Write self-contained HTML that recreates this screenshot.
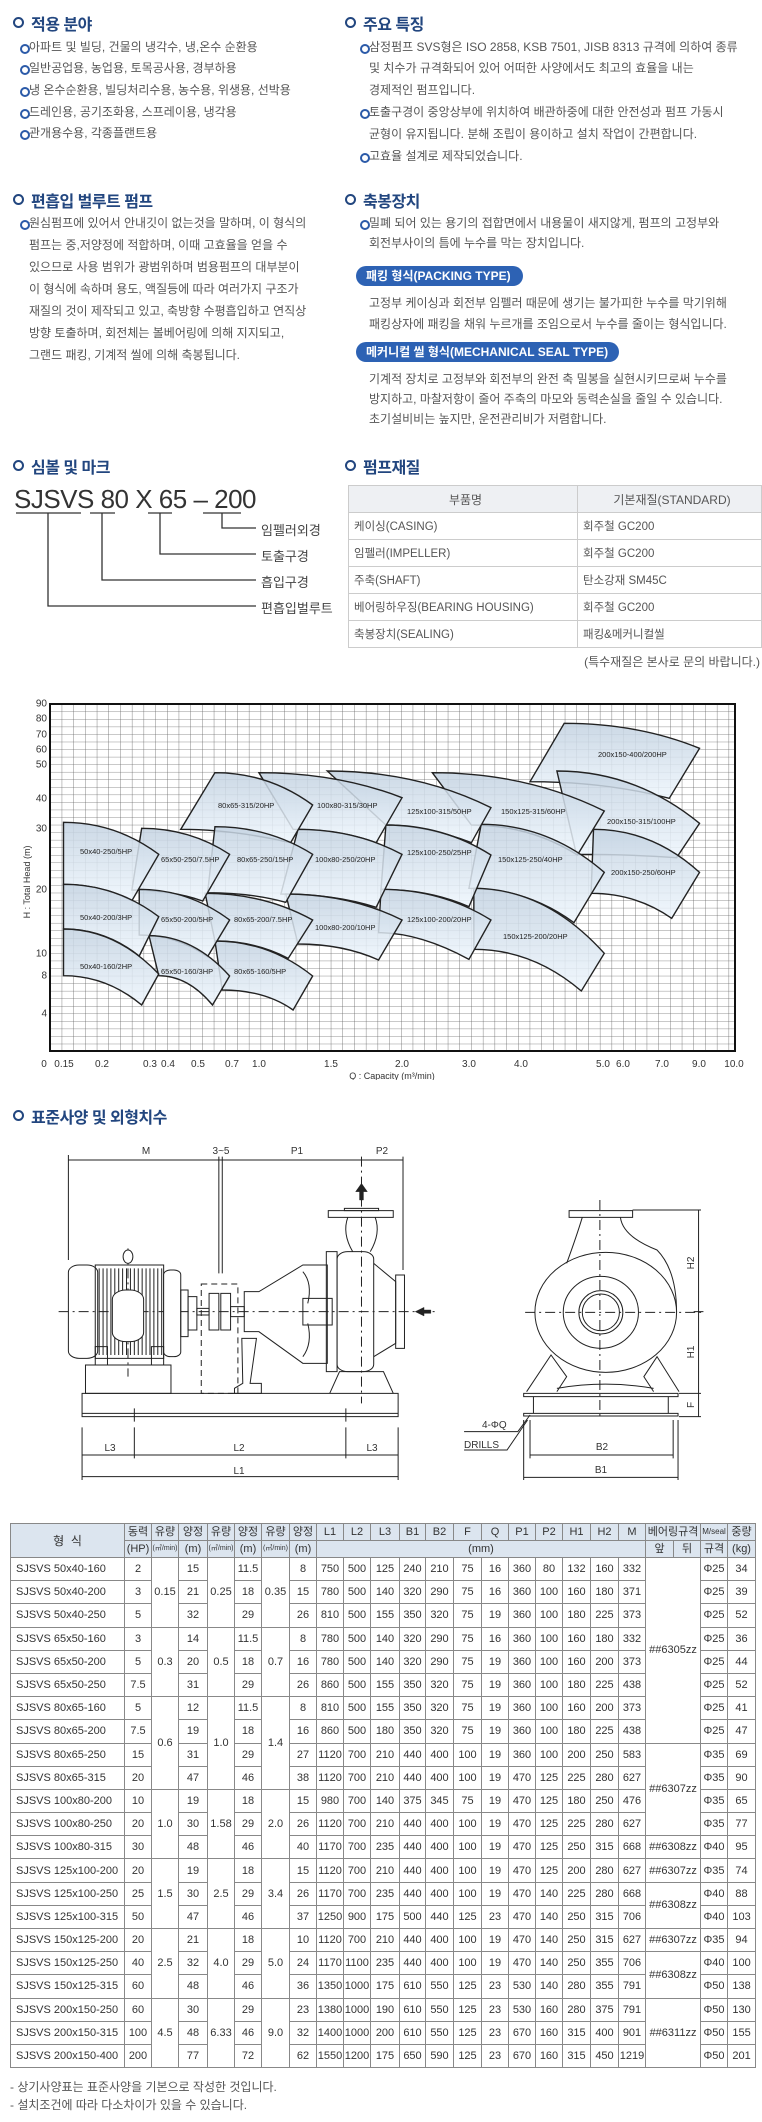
<!DOCTYPE html>
<html><head><meta charset="utf-8">
<style>
*{margin:0;padding:0;box-sizing:border-box}
body{width:762px;height:2122px;position:relative;background:#fff;font-family:"Liberation Sans","Noto Sans CJK KR",sans-serif;color:#555;overflow:hidden}
.a{position:absolute;white-space:nowrap}
.h{font-size:16px;font-weight:bold;color:#22467f;letter-spacing:-0.5px}
.h:before{content:"";display:inline-block;width:7px;height:7px;border:2.5px solid #22467f;border-radius:50%;margin-right:7px;vertical-align:2px}
.t{font-size:12px;line-height:14px;color:#555}
.b:before{content:"";position:absolute;left:-9px;top:4px;width:6px;height:6px;border-radius:50%;border:2px solid #2b5aa8;background:#fff}
.pill{position:absolute;background:#2d62b4;color:#fff;font-size:12px;font-weight:bold;border-radius:10px;height:20px;line-height:20px;padding-left:10px}
table{border-collapse:collapse;table-layout:fixed}
.mt td{border:1px solid #ccc;font-size:11.5px;height:27px;padding-left:5px;color:#555}
.mt tr:first-child td{background:#eef0f3;text-align:center;font-size:12px}
.st{position:absolute;left:10px;top:1523px;width:745px}
.st td{border:1px solid #888;font-size:11px;text-align:center;color:#333;height:23.2px;padding:0;line-height:12px}
.st td.n{text-align:left;padding-left:5px}
.st thead td{background:#dce5ef;height:17px;font-size:11px}
.st tbody tr td{border-top:1px solid #999}
</style></head><body>

<!-- Section 1 -->
<div class="a h" style="left:13px;top:11px">적용 분야</div>
<div class="a t b" style="left:29px;top:40px">아파트 및 빌딩, 건물의 냉각수, 냉,온수 순환용</div>
<div class="a t b" style="left:29px;top:61px">일반공업용, 농업용, 토목공사용, 경부하용</div>
<div class="a t b" style="left:29px;top:83px">냉 온수순환용, 빌딩처리수용, 농수용, 위생용, 선박용</div>
<div class="a t b" style="left:29px;top:105px">드레인용, 공기조화용, 스프레이용, 냉각용</div>
<div class="a t b" style="left:29px;top:126px">관개용수용, 각종플랜트용</div>

<div class="a h" style="left:345px;top:11px">주요 특징</div>
<div class="a t b" style="left:369px;top:40px">삼정펌프 SVS형은 ISO 2858, KSB 7501, JISB 8313 규격에 의하여 종류</div>
<div class="a t" style="left:369px;top:61px">및 치수가 규격화되어 있어 어떠한 사양에서도 최고의 효율을 내는</div>
<div class="a t" style="left:369px;top:83px">경제적인 펌프입니다.</div>
<div class="a t b" style="left:369px;top:105px">토출구경이 중앙상부에 위치하여 배관하중에 대한 안전성과 펌프 가동시</div>
<div class="a t" style="left:369px;top:127px">균형이 유지됩니다. 분해 조립이 용이하고 설치 작업이 간편합니다.</div>
<div class="a t b" style="left:369px;top:149px">고효율 설계로 제작되었습니다.</div>

<div class="a h" style="left:13px;top:188px">편흡입 벌루트 펌프</div>
<div class="a t b" style="left:29px;top:216px">원심펌프에 있어서 안내깃이 없는것을 말하며, 이 형식의</div>
<div class="a t" style="left:29px;top:238px">펌프는 중,저양정에 적합하며, 이때 고효율을 얻을 수</div>
<div class="a t" style="left:29px;top:260px">있으므로 사용 범위가 광범위하며 범용펌프의 대부분이</div>
<div class="a t" style="left:29px;top:282px">이 형식에 속하며 용도, 액질등에 따라 여러가지 구조가</div>
<div class="a t" style="left:29px;top:304px">재질의 것이 제작되고 있고, 축방향 수평흡입하고 연직상</div>
<div class="a t" style="left:29px;top:326px">방향 토출하며, 회전체는 볼베어링에 의해 지지되고,</div>
<div class="a t" style="left:29px;top:348px">그랜드 패킹, 기계적 씰에 의해 축봉됩니다.</div>

<div class="a h" style="left:345px;top:188px">축봉장치</div>
<div class="a t b" style="left:369px;top:216px">밀폐 되어 있는 용기의 접합면에서 내용물이 새지않게, 펌프의 고정부와</div>
<div class="a t" style="left:369px;top:236px">회전부사이의 틈에 누수를 막는 장치입니다.</div>
<div class="pill" style="left:356px;top:266px;width:167px">패킹 형식(PACKING TYPE)</div>
<div class="a t" style="left:369px;top:296px">고정부 케이싱과 회전부 임펠러 때문에 생기는 불가피한 누수를 막기위해</div>
<div class="a t" style="left:369px;top:317px">패킹상자에 패킹을 채워 누르개를 조임으로서 누수를 줄이는 형식입니다.</div>
<div class="pill" style="left:356px;top:342px;width:263px">메커니컬 씰 형식(MECHANICAL SEAL TYPE)</div>
<div class="a t" style="left:369px;top:372px">기계적 장치로 고정부와 회전부의 완전 축 밀봉을 실현시키므로써 누수를</div>
<div class="a t" style="left:369px;top:392px">방지하고, 마찰저항이 줄어 주축의 마모와 동력손실을 줄일 수 있습니다.</div>
<div class="a t" style="left:369px;top:412px">초기설비비는 높지만, 운전관리비가 저렴합니다.</div>

<!-- Section 3 -->
<div class="a h" style="left:13px;top:454px">심볼 및 마크</div>
<div class="a" style="left:14px;top:484px;font-size:26px;color:#333;letter-spacing:-0.5px">SJSVS 80 X 65 – 200</div>
<svg class="a" style="left:0;top:440px" width="340" height="180">
<g stroke="#333" stroke-width="1.3" fill="none">
<line x1="16" y1="73" x2="81" y2="73"/><line x1="90" y1="73" x2="115" y2="73"/><line x1="148" y1="73" x2="172" y2="73"/><line x1="203" y1="73" x2="241" y2="73"/>
<polyline points="222,73 222,88 256,88"/><polyline points="160,73 160,114 256,114"/><polyline points="102,73 102,140 256,140"/><polyline points="48,73 48,166 256,166"/>
</g></svg>
<div class="a" style="left:261px;top:520px;font-size:13px;color:#444">임펠러외경</div>
<div class="a" style="left:261px;top:546px;font-size:13px;color:#444">토출구경</div>
<div class="a" style="left:261px;top:572px;font-size:13px;color:#444">흡입구경</div>
<div class="a" style="left:261px;top:598px;font-size:13px;color:#444">편흡입벌루트</div>

<div class="a h" style="left:345px;top:454px">펌프재질</div>
<table class="mt a" style="left:348px;top:485px;width:413px">
<col style="width:229px"><col style="width:184px">
<tr><td>부품명</td><td>기본재질(STANDARD)</td></tr>
<tr><td>케이싱(CASING)</td><td>회주철 GC200</td></tr>
<tr><td>임펠러(IMPELLER)</td><td>회주철 GC200</td></tr>
<tr><td>주축(SHAFT)</td><td>탄소강재 SM45C</td></tr>
<tr><td>베어링하우징(BEARING HOUSING)</td><td>회주철 GC200</td></tr>
<tr><td>축봉장치(SEALING)</td><td>패킹&amp;메커니컬씰</td></tr>
</table>
<div class="a" style="right:2px;top:653px;font-size:12px;color:#555">(특수재질은 본사로 문의 바랍니다.)</div>

<!-- Chart -->
<svg class="a" style="left:0;top:0" width="762" height="1080" viewBox="0 0 762 1080">
<defs>
<pattern id="g" x="50" y="704" width="11.7" height="7.55" patternUnits="userSpaceOnUse">
<path d="M0 0V7.55M0 0H11.7" stroke="#666" stroke-width="0.8" fill="none"/></pattern>
<linearGradient id="f" x1="0" y1="0" x2="0" y2="1"><stop offset="0" stop-color="#c3d2e1"/><stop offset="1" stop-color="#eef6fd"/></linearGradient>
</defs>
<rect x="50" y="704" width="685" height="347" fill="url(#g)"/>
<g transform="translate(0,670) scale(0.4885,0.33333)" fill="url(#f)" fill-opacity="0.85" stroke="#222" stroke-width="1.4">
<path vector-effect="non-scaling-stroke" d="M1155,160 Q1307,160 1432,235 L1370,385 Q1240,335 1085,335 Z"/>
<path vector-effect="non-scaling-stroke" d="M1140,303 Q1301,303 1432,460 L1385,563 Q1290,553 1180,553 Z"/>
<path vector-effect="non-scaling-stroke" d="M1215,478 Q1335,478 1432,607 L1375,745 Q1302,670 1210,670 Z"/>
<path vector-effect="non-scaling-stroke" d="M885,308 Q1079,308 1237,423 L1182,555 Q1084,465 965,465 Z"/>
<path vector-effect="non-scaling-stroke" d="M985,463 Q1124,463 1237,607 L1175,758 Q1079,655 960,655 Z"/>
<path vector-effect="non-scaling-stroke" d="M970,655 Q1117,655 1237,850 L1190,963 Q1090,838 970,838 Z"/>
<path vector-effect="non-scaling-stroke" d="M670,303 Q854,303 1005,413 L965,518 Q869,465 790,465 Z"/>
<path vector-effect="non-scaling-stroke" d="M790,465 Q908,465 1005,555 L960,710 Q878,658 780,658 Z"/>
<path vector-effect="non-scaling-stroke" d="M780,658 Q904,658 1005,750 L960,868 Q859,788 775,788 Z"/>
<path vector-effect="non-scaling-stroke" d="M530,308 Q691,308 823,383 L770,518 Q696,478 600,478 Z"/>
<path vector-effect="non-scaling-stroke" d="M610,478 Q727,478 823,553 L770,712 Q683,672 575,672 Z"/>
<path vector-effect="non-scaling-stroke" d="M585,672 Q716,672 823,750 L775,870 Q702,822 610,822 Z"/>
<path vector-effect="non-scaling-stroke" d="M440,308 Q550,308 640,405 L595,518 Q475,478 370,478 Z"/>
<path vector-effect="non-scaling-stroke" d="M440,470 Q550,470 640,553 L585,697 Q513,668 425,668 Z"/>
<path vector-effect="non-scaling-stroke" d="M420,670 Q541,670 640,750 L590,865 Q523,813 440,813 Z"/>
<path vector-effect="non-scaling-stroke" d="M440,813 Q550,813 640,918 L600,1020 Q542,960 455,960 Z"/>
<path vector-effect="non-scaling-stroke" d="M290,475 Q389,475 470,553 L415,693 Q350,660 270,660 Z"/>
<path vector-effect="non-scaling-stroke" d="M285,658 Q386,658 470,750 L425,860 Q362,795 285,795 Z"/>
<path vector-effect="non-scaling-stroke" d="M305,797 Q396,797 470,918 L435,1005 Q385,917 325,917 Z"/>
<path vector-effect="non-scaling-stroke" d="M130,457 Q237,457 325,553 L270,692 Q207,643 130,643 Z"/>
<path vector-effect="non-scaling-stroke" d="M130,643 Q237,643 325,740 L285,858 Q215,777 130,777 Z"/>
<path vector-effect="non-scaling-stroke" d="M130,777 Q237,777 325,912 L290,1005 Q218,917 130,917 Z"/>
</g>
<rect x="50" y="704" width="685" height="347" fill="none" stroke="#111" stroke-width="2"/>
<g font-size="7.5" fill="#222" font-family="Liberation Sans,sans-serif" dominant-baseline="middle">
<text x="80" y="852">50x40-250/5HP</text><text x="80" y="918">50x40-200/3HP</text><text x="80" y="967">50x40-160/2HP</text>
<text x="161" y="860">65x50-250/7.5HP</text><text x="161" y="920">65x50-200/5HP</text><text x="161" y="972">65x50-160/3HP</text>
<text x="218" y="806">80x65-315/20HP</text><text x="237" y="860">80x65-250/15HP</text><text x="234" y="920">80x65-200/7.5HP</text><text x="234" y="972">80x65-160/5HP</text>
<text x="317" y="806">100x80-315/30HP</text><text x="315" y="860">100x80-250/20HP</text><text x="315" y="928">100x80-200/10HP</text>
<text x="407" y="812">125x100-315/50HP</text><text x="407" y="853">125x100-250/25HP</text><text x="407" y="920">125x100-200/20HP</text>
<text x="501" y="812">150x125-315/60HP</text><text x="498" y="860">150x125-250/40HP</text><text x="503" y="937">150x125-200/20HP</text>
<text x="598" y="755">200x150-400/200HP</text><text x="607" y="822">200x150-315/100HP</text><text x="611" y="873">200x150-250/60HP</text>
</g>
<g font-size="10" fill="#333" text-anchor="end" dominant-baseline="middle">
<text x="47" y="704">90</text><text x="47" y="719">80</text><text x="47" y="735">70</text><text x="47" y="750">60</text><text x="47" y="765">50</text><text x="47" y="799">40</text><text x="47" y="829">30</text><text x="47" y="890">20</text><text x="47" y="954">10</text><text x="47" y="976">8</text><text x="47" y="1014">4</text>
</g>
<g font-size="10" fill="#333" text-anchor="middle">
<text x="44" y="1067">0</text><text x="64" y="1067">0.15</text><text x="102" y="1067">0.2</text><text x="150" y="1067">0.3</text><text x="168" y="1067">0.4</text><text x="198" y="1067">0.5</text><text x="232" y="1067">0.7</text><text x="259" y="1067">1.0</text><text x="331" y="1067">1.5</text><text x="402" y="1067">2.0</text><text x="469" y="1067">3.0</text><text x="521" y="1067">4.0</text><text x="603" y="1067">5.0</text><text x="623" y="1067">6.0</text><text x="662" y="1067">7.0</text><text x="699" y="1067">9.0</text><text x="734" y="1067">10.0</text>
<text x="392" y="1079" font-size="9">Q : Capacity (m³/min)</text>
</g>
<text transform="translate(30,882) rotate(-90)" font-size="9" fill="#333" text-anchor="middle">H : Total Head (m)</text>
</svg>

<!-- Drawing -->
<div class="a h" style="left:13px;top:1104px">표준사양 및 외형치수</div>
<svg class="a" style="left:0;top:1090px" width="762" height="420" viewBox="0 1090 762 420">
<g transform="translate(0,1090) scale(0.4885,0.33333)" fill="none" stroke="#222" stroke-width="1">
<g vector-effect="non-scaling-stroke">
<!-- dims top -->
<path vector-effect="non-scaling-stroke" d="M140,210H825M140,195V510M448,200V550M455,200V550M825,200V540"/>
<path vector-effect="non-scaling-stroke" stroke-dasharray="10,4,2,4" d="M740,200V940M120,665H890M262,475V860"/>
<!-- motor -->
<rect vector-effect="non-scaling-stroke" x="140" y="525" width="60" height="280" rx="22"/>
<rect vector-effect="non-scaling-stroke" x="195" y="525" width="140" height="280"/>
<path vector-effect="non-scaling-stroke" d="M203,535V795M211,535V795M219,535V795M227,535V795M235,535V795M243,535V795M251,535V795M259,535V795M267,535V795M275,535V795M283,535V795M291,535V795M299,535V795M307,535V795M315,535V795M323,535V795M331,535V795"/>
<rect vector-effect="non-scaling-stroke" x="230" y="600" width="64" height="155" rx="28" fill="#fff"/>
<rect vector-effect="non-scaling-stroke" x="335" y="540" width="35" height="260" rx="14" fill="#fff"/>
<ellipse vector-effect="non-scaling-stroke" cx="262" cy="500" rx="10" ry="20" fill="#fff"/>
<rect vector-effect="non-scaling-stroke" x="370" y="600" width="15" height="140"/>
<rect vector-effect="non-scaling-stroke" x="385" y="620" width="18" height="100"/>
<rect vector-effect="non-scaling-stroke" x="195" y="770" width="25" height="55"/>
<rect vector-effect="non-scaling-stroke" x="310" y="770" width="25" height="55"/>
<rect vector-effect="non-scaling-stroke" x="175" y="825" width="175" height="85"/>
<!-- coupling -->
<rect vector-effect="non-scaling-stroke" x="403" y="655" width="25" height="20"/>
<rect vector-effect="non-scaling-stroke" x="428" y="610" width="20" height="110"/>
<rect vector-effect="non-scaling-stroke" x="452" y="610" width="20" height="110"/>
<rect vector-effect="non-scaling-stroke" x="472" y="650" width="28" height="30"/>
<rect vector-effect="non-scaling-stroke" stroke-dasharray="6,4" x="412" y="582" width="75" height="328"/>
<!-- bracket -->
<path vector-effect="non-scaling-stroke" d="M500,605H530L620,525H670V820H620L530,725H500Z"/>
<path vector-effect="non-scaling-stroke" d="M620,545Q640,580 630,640M620,800Q640,760 630,700M620,625H680V705H620Z"/>
<path vector-effect="non-scaling-stroke" d="M495,745H525L512,880H535V910H480V895L497,880Z"/>
<!-- casing -->
<rect vector-effect="non-scaling-stroke" x="668" y="485" width="22" height="360"/>
<rect vector-effect="non-scaling-stroke" x="690" y="485" width="75" height="360" rx="22"/>
<path vector-effect="non-scaling-stroke" d="M765,520L810,575V760L765,800"/>
<rect vector-effect="non-scaling-stroke" x="810" y="555" width="18" height="220"/>
<path vector-effect="non-scaling-stroke" d="M712,382Q700,430 722,485M768,382Q780,430 758,485"/>
<rect vector-effect="non-scaling-stroke" x="672" y="362" width="133" height="20"/>
<rect vector-effect="non-scaling-stroke" x="705" y="355" width="70" height="7"/>
<path vector-effect="non-scaling-stroke" d="M675,910L695,845H785L805,910"/>
<path d="M736,330V305H728L740,280L752,305H744V330Z" fill="#222"/>
<path d="M850,665L868,652V660H882V670H868V678Z" fill="#222"/>
<!-- base -->
<rect vector-effect="non-scaling-stroke" x="168" y="910" width="647" height="70"/>
<path vector-effect="non-scaling-stroke" d="M168,970H815M275,955V995M708,955V995"/>
<!-- bottom dims -->
<path vector-effect="non-scaling-stroke" d="M168,1012V1170M275,1012V1105M708,1012V1105M815,1012V1170M168,1095H815M168,1160H815"/>
<!-- side view -->
<ellipse vector-effect="non-scaling-stroke" cx="1240" cy="667" rx="145" ry="180"/>
<ellipse vector-effect="non-scaling-stroke" cx="1230" cy="667" rx="77" ry="108"/>
<ellipse vector-effect="non-scaling-stroke" cx="1230" cy="667" rx="45" ry="65"/>
<ellipse vector-effect="non-scaling-stroke" cx="1230" cy="667" rx="38" ry="55"/>
<rect vector-effect="non-scaling-stroke" x="1165" y="362" width="130" height="20" fill="#fff"/>
<path vector-effect="non-scaling-stroke" d="M1192,382Q1180,440 1160,520M1270,382Q1275,440 1345,480Q1385,540 1385,667"/>
<path vector-effect="non-scaling-stroke" d="M1078,905L1128,795L1160,860L1140,905M1390,905L1345,800L1318,860L1338,905M1140,895Q1240,870 1338,895"/>
<path vector-effect="non-scaling-stroke" d="M1072,910H1388V920H1072ZM1092,920V970M1368,920V970M1072,970H1388V978H1072Z"/>
<path vector-effect="non-scaling-stroke" stroke-dasharray="10,4,2,4" d="M1075,667H1440M1228,330V990"/>
<path vector-effect="non-scaling-stroke" d="M1295,360H1435M1430,360V980M1390,910H1435M1390,980H1435M1420,665H1440"/>
<path vector-effect="non-scaling-stroke" d="M1072,990V1170M1085,990V1105M1378,990V1105M1388,990V1170M1085,1095H1378M1072,1162H1388"/>
<path vector-effect="non-scaling-stroke" d="M950,1025H1060L1085,975M950,1080H1038L1080,990"/>
</g></g>
<g font-size="10" fill="#333" text-anchor="middle">
<text x="146" y="1154">M</text><text x="221" y="1154">3~5</text><text x="297" y="1154">P1</text><text x="382" y="1154">P2</text>
<text x="110" y="1451">L3</text><text x="239" y="1451">L2</text><text x="372" y="1451">L3</text><text x="239" y="1474">L1</text>
<text x="602" y="1450">B2</text><text x="601" y="1473">B1</text>
<text x="482" y="1428" text-anchor="start" x-offset="0">4-ΦQ</text>
<text x="464" y="1448" text-anchor="start">DRILLS</text>
<text transform="translate(694,1263) rotate(-90)">H2</text>
<text transform="translate(694,1352) rotate(-90)">H1</text>
<text transform="translate(694,1405) rotate(-90)">F</text>
</g>
</svg>

<!-- Spec table -->
<table class="st">
<colgroup>
<col style="width:114px"><col style="width:27px"><col style="width:27px"><col style="width:29px"><col style="width:27px"><col style="width:27px"><col style="width:28px"><col style="width:27px">
<col style="width:27px"><col style="width:27px"><col style="width:29px"><col style="width:26px"><col style="width:28px"><col style="width:28px"><col style="width:27px"><col style="width:27px"><col style="width:27px"><col style="width:28px"><col style="width:28px"><col style="width:27px">
<col style="width:28px"><col style="width:27px"><col style="width:27px"><col style="width:28px">
</colgroup>
<thead>
<tr><td rowspan="2" style="font-size:12px">형&nbsp;&nbsp;식</td><td>동력</td><td>유량</td><td>양정</td><td>유량</td><td>양정</td><td>유량</td><td>양정</td>
<td>L1</td><td>L2</td><td>L3</td><td>B1</td><td>B2</td><td>F</td><td>Q</td><td>P1</td><td>P2</td><td>H1</td><td>H2</td><td>M</td><td colspan="2">베어링규격</td><td style="font-size:8px">M/seal</td><td>중량</td></tr>
<tr><td>(HP)</td><td style="font-size:7px">(㎥/min)</td><td>(m)</td><td style="font-size:7px">(㎥/min)</td><td>(m)</td><td style="font-size:7px">(㎥/min)</td><td>(m)</td><td colspan="12">(mm)</td><td>앞</td><td>뒤</td><td>규격</td><td>(kg)</td></tr>
</thead>
<tbody>
<tr><td class="n">SJSVS 50x40-160</td><td>2</td><td rowspan="3">0.15</td><td>15</td><td rowspan="3">0.25</td><td>11.5</td><td rowspan="3">0.35</td><td>8</td><td>750</td><td>500</td><td>125</td><td>240</td><td>210</td><td>75</td><td>16</td><td>360</td><td>80</td><td>132</td><td>160</td><td>332</td><td colspan="2" rowspan="8">##6305zz</td><td>Φ25</td><td>34</td></tr>
<tr><td class="n">SJSVS 50x40-200</td><td>3</td><td>21</td><td>18</td><td>15</td><td>780</td><td>500</td><td>140</td><td>320</td><td>290</td><td>75</td><td>16</td><td>360</td><td>100</td><td>160</td><td>180</td><td>371</td><td>Φ25</td><td>39</td></tr>
<tr><td class="n">SJSVS 50x40-250</td><td>5</td><td>32</td><td>29</td><td>26</td><td>810</td><td>500</td><td>155</td><td>350</td><td>320</td><td>75</td><td>19</td><td>360</td><td>100</td><td>180</td><td>225</td><td>373</td><td>Φ25</td><td>52</td></tr>
<tr><td class="n">SJSVS 65x50-160</td><td>3</td><td rowspan="3">0.3</td><td>14</td><td rowspan="3">0.5</td><td>11.5</td><td rowspan="3">0.7</td><td>8</td><td>780</td><td>500</td><td>140</td><td>320</td><td>290</td><td>75</td><td>16</td><td>360</td><td>100</td><td>160</td><td>180</td><td>332</td><td>Φ25</td><td>36</td></tr>
<tr><td class="n">SJSVS 65x50-200</td><td>5</td><td>20</td><td>18</td><td>16</td><td>780</td><td>500</td><td>140</td><td>320</td><td>290</td><td>75</td><td>19</td><td>360</td><td>100</td><td>160</td><td>200</td><td>373</td><td>Φ25</td><td>44</td></tr>
<tr><td class="n">SJSVS 65x50-250</td><td>7.5</td><td>31</td><td>29</td><td>26</td><td>860</td><td>500</td><td>155</td><td>350</td><td>320</td><td>75</td><td>19</td><td>360</td><td>100</td><td>180</td><td>225</td><td>438</td><td>Φ25</td><td>52</td></tr>
<tr><td class="n">SJSVS 80x65-160</td><td>5</td><td rowspan="4">0.6</td><td>12</td><td rowspan="4">1.0</td><td>11.5</td><td rowspan="4">1.4</td><td>8</td><td>810</td><td>500</td><td>155</td><td>350</td><td>320</td><td>75</td><td>19</td><td>360</td><td>100</td><td>160</td><td>200</td><td>373</td><td>Φ25</td><td>41</td></tr>
<tr><td class="n">SJSVS 80x65-200</td><td>7.5</td><td>19</td><td>18</td><td>16</td><td>860</td><td>500</td><td>180</td><td>350</td><td>320</td><td>75</td><td>19</td><td>360</td><td>100</td><td>180</td><td>225</td><td>438</td><td>Φ25</td><td>47</td></tr>
<tr><td class="n">SJSVS 80x65-250</td><td>15</td><td>31</td><td>29</td><td>27</td><td>1120</td><td>700</td><td>210</td><td>440</td><td>400</td><td>100</td><td>19</td><td>360</td><td>100</td><td>200</td><td>250</td><td>583</td><td colspan="2" rowspan="4">##6307zz</td><td>Φ35</td><td>69</td></tr>
<tr><td class="n">SJSVS 80x65-315</td><td>20</td><td>47</td><td>46</td><td>38</td><td>1120</td><td>700</td><td>210</td><td>440</td><td>400</td><td>100</td><td>19</td><td>470</td><td>125</td><td>225</td><td>280</td><td>627</td><td>Φ35</td><td>90</td></tr>
<tr><td class="n">SJSVS 100x80-200</td><td>10</td><td rowspan="3">1.0</td><td>19</td><td rowspan="3">1.58</td><td>18</td><td rowspan="3">2.0</td><td>15</td><td>980</td><td>700</td><td>140</td><td>375</td><td>345</td><td>75</td><td>19</td><td>470</td><td>125</td><td>180</td><td>250</td><td>476</td><td>Φ35</td><td>65</td></tr>
<tr><td class="n">SJSVS 100x80-250</td><td>20</td><td>30</td><td>29</td><td>26</td><td>1120</td><td>700</td><td>210</td><td>440</td><td>400</td><td>100</td><td>19</td><td>470</td><td>125</td><td>225</td><td>280</td><td>627</td><td>Φ35</td><td>77</td></tr>
<tr><td class="n">SJSVS 100x80-315</td><td>30</td><td>48</td><td>46</td><td>40</td><td>1170</td><td>700</td><td>235</td><td>440</td><td>400</td><td>100</td><td>19</td><td>470</td><td>125</td><td>250</td><td>315</td><td>668</td><td colspan="2">##6308zz</td><td>Φ40</td><td>95</td></tr>
<tr><td class="n">SJSVS 125x100-200</td><td>20</td><td rowspan="3">1.5</td><td>19</td><td rowspan="3">2.5</td><td>18</td><td rowspan="3">3.4</td><td>15</td><td>1120</td><td>700</td><td>210</td><td>440</td><td>400</td><td>100</td><td>19</td><td>470</td><td>125</td><td>200</td><td>280</td><td>627</td><td colspan="2">##6307zz</td><td>Φ35</td><td>74</td></tr>
<tr><td class="n">SJSVS 125x100-250</td><td>25</td><td>30</td><td>29</td><td>26</td><td>1170</td><td>700</td><td>235</td><td>440</td><td>400</td><td>100</td><td>19</td><td>470</td><td>140</td><td>225</td><td>280</td><td>668</td><td colspan="2" rowspan="2">##6308zz</td><td>Φ40</td><td>88</td></tr>
<tr><td class="n">SJSVS 125x100-315</td><td>50</td><td>47</td><td>46</td><td>37</td><td>1250</td><td>900</td><td>175</td><td>500</td><td>440</td><td>125</td><td>23</td><td>470</td><td>140</td><td>250</td><td>315</td><td>706</td><td>Φ40</td><td>103</td></tr>
<tr><td class="n">SJSVS 150x125-200</td><td>20</td><td rowspan="3">2.5</td><td>21</td><td rowspan="3">4.0</td><td>18</td><td rowspan="3">5.0</td><td>10</td><td>1120</td><td>700</td><td>210</td><td>440</td><td>400</td><td>100</td><td>19</td><td>470</td><td>140</td><td>250</td><td>315</td><td>627</td><td colspan="2">##6307zz</td><td>Φ35</td><td>94</td></tr>
<tr><td class="n">SJSVS 150x125-250</td><td>40</td><td>32</td><td>29</td><td>24</td><td>1170</td><td>1100</td><td>235</td><td>440</td><td>400</td><td>100</td><td>19</td><td>470</td><td>140</td><td>250</td><td>355</td><td>706</td><td colspan="2" rowspan="2">##6308zz</td><td>Φ40</td><td>100</td></tr>
<tr><td class="n">SJSVS 150x125-315</td><td>60</td><td>48</td><td>46</td><td>36</td><td>1350</td><td>1000</td><td>175</td><td>610</td><td>550</td><td>125</td><td>23</td><td>530</td><td>140</td><td>280</td><td>355</td><td>791</td><td>Φ50</td><td>138</td></tr>
<tr><td class="n">SJSVS 200x150-250</td><td>60</td><td rowspan="3">4.5</td><td>30</td><td rowspan="3">6.33</td><td>29</td><td rowspan="3">9.0</td><td>23</td><td>1380</td><td>1000</td><td>190</td><td>610</td><td>550</td><td>125</td><td>23</td><td>530</td><td>160</td><td>280</td><td>375</td><td>791</td><td colspan="2" rowspan="3">##6311zz</td><td>Φ50</td><td>130</td></tr>
<tr><td class="n">SJSVS 200x150-315</td><td>100</td><td>48</td><td>46</td><td>32</td><td>1400</td><td>1000</td><td>200</td><td>610</td><td>550</td><td>125</td><td>23</td><td>670</td><td>160</td><td>315</td><td>400</td><td>901</td><td>Φ50</td><td>155</td></tr>
<tr><td class="n">SJSVS 200x150-400</td><td>200</td><td>77</td><td>72</td><td>62</td><td>1550</td><td>1200</td><td>175</td><td>650</td><td>590</td><td>125</td><td>23</td><td>670</td><td>160</td><td>315</td><td>450</td><td>1219</td><td>Φ50</td><td>201</td></tr>
</tbody>
</table>
<div class="a" style="left:10px;top:2078px;font-size:12px;color:#555">- 상기사양표는 표준사양을 기본으로 작성한 것입니다.</div>
<div class="a" style="left:10px;top:2096px;font-size:12px;color:#555">- 설치조건에 따라 다소차이가 있을 수 있습니다.</div>
</body></html>
